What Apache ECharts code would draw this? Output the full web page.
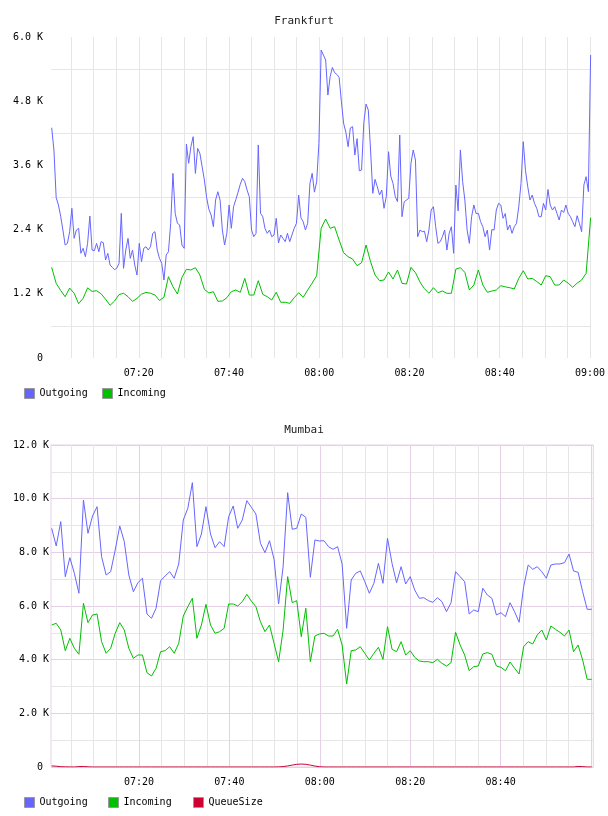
<!DOCTYPE html>
<html>
<head>
<meta charset="utf-8">
<script src="https://cdn.jsdelivr.net/npm/echarts@6/dist/echarts.min.js"></script>
<style>
html,body{margin:0;padding:0;background:#fff;}
#chart{width:608px;height:816px;}
</style>
</head>
<body>
<div id="chart"></div>
<script>
// ---- data (minutes after 07:00) ----
const startHour = 7;
const seriesStart = 0.7;      // first sample, minutes after 07:00
const seriesEnd = 120.15;     // last sample, minutes after 07:00

const fraOutgoing = [
4304,3888,3000,2860,2650,2392,2112,2143,2361,2798,2237,2392,2424,1957,2050,1893,2143,2654,2018,2005,
2143,1987,2174,2155,1832,1957,1738,1695,1650,1680,1770,2704,1676,2018,2237,1863,2018,1738,1551,2143,
1800,2050,2080,2018,2080,2330,2361,2018,1863,1770,1458,1925,1987,2517,3452,2704,2517,2486,2112,2050,
4000,3639,3949,4136,3450,3919,3826,3575,3327,3000,2779,2673,2454,2953,3108,2950,2392,2112,2330,2860,
2424,2828,2960,3100,3250,3358,3295,3140,3015,2392,2267,2330,3982,2704,2641,2420,2330,2392,2267,2299,
2611,2150,2299,2237,2174,2330,2174,2300,2424,2517,3046,2620,2548,2392,2517,3260,3452,3100,3295,4012,
5757,5663,5570,4915,5258,5430,5333,5300,5246,4800,4387,4220,3949,4300,4324,3794,4100,3500,3514,4400,
4747,4635,3888,3078,3339,3202,3046,3140,2798,3015,3856,3400,3264,3015,2922,4168,2641,2922,2953,2984,
3639,3888,3700,2267,2392,2361,2370,2174,2392,2766,2828,2454,2143,2174,2267,2392,2018,2330,2454,1957,
3233,2750,3888,3300,2950,2392,2143,2641,2860,2700,2704,2548,2454,2267,2392,2018,2400,2392,2766,2891,
2860,2611,2700,2392,2486,2330,2454,2517,2828,3264,4043,3500,3202,2953,3046,2890,2798,2641,2641,2891,
2766,3150,2860,2766,2828,2704,2579,2766,2720,2860,2704,2641,2548,2454,2660,2517,2361,3233,3389,3108,
5663
];
const fraIncoming = [
1695,1396,1262,1146,1308,1210,1015,1116,1310,1245,1258,1200,1099,985,1065,1185,1210,1146,1058,1114,
1194,1225,1211,1177,1074,1136,1520,1333,1196,1508,1658,1645,1688,1551,1284,1215,1239,1060,1065,1127,
1239,1271,1228,1489,1177,1177,1445,1190,1146,1084,1228,1041,1041,1022,1127,1221,1134,1271,1400,1538,
2424,2598,2424,2454,2205,1968,1893,1850,1725,1781,2112,1800,1551,1445,1458,1607,1477,1645,1396,1383,
1695,1595,1420,1295,1209,1314,1221,1252,1209,1209,1663,1688,1601,1271,1364,1645,1364,1228,1252,1271,
1351,1330,1314,1290,1489,1632,1477,1489,1430,1364,1538,1520,1364,1364,1458,1400,1321,1400,1458,1583,
2622
];
const mumOutgoing = [
8896,8237,9143,7093,7801,7219,6474,9951,8710,9355,
9701,7838,7156,7279,8088,8982,8397,7156,6533,6869,
7033,5702,5542,5915,6943,7119,7279,7033,7566,9206,
9642,10596,8212,8684,9701,8684,8173,8397,8212,9329,
9727,8896,9206,9925,9679,9429,8337,7987,8434,7741,
6075,7465,10223,8859,8896,9429,9304,7070,8460,8423,
8434,8212,8113,8212,7566,5168,6969,7219,7305,6906,
6474,6846,7590,6846,8522,7590,6869,7465,6820,7093,
6597,6287,6310,6198,6138,6310,6161,5788,6124,7279,
7093,6906,5702,5851,5788,6660,6410,6287,5665,5751,
5602,6124,5788,5393,6720,7529,7368,7465,7279,7033,
7529,7566,7566,7615,7938,7305,7256,6533,5877,5877
];
const mumIncoming = [
5292,5355,5106,4335,4796,4424,4200,6101,5379,5665,
5702,4670,4237,4424,4983,5379,5106,4424,4051,4174,
4174,3515,3392,3678,4297,4335,4484,4237,4610,5628,
5974,6287,4796,5292,6063,5292,4983,5043,5168,6075,
6075,6000,6161,6436,6180,5974,5416,5043,5292,4610,
3925,5106,7093,6124,6198,4857,5915,3925,4882,4957,
4983,4882,4882,5131,4547,3093,4335,4361,4484,4237,
3988,4237,4461,4014,5230,4386,4297,4670,4174,4335,
4088,3951,3925,3925,3888,4014,3863,3764,3888,5020,
4547,4174,3589,3739,3764,4212,4261,4200,3764,3714,
3589,3913,3678,3466,4484,4670,4584,4920,5106,4733,
5255,5131,5020,4882,5106,4297,4547,3988,3268,3268
];
const mumQueue = [
40,30,12,5,2,0,15,20,5,0,
0,0,0,0,0,0,0,0,0,0,
0,0,0,0,0,0,0,0,0,0,
0,0,0,0,0,0,0,0,0,0,
0,0,0,0,0,0,0,0,0,0,
5,15,40,70,100,110,100,70,35,10,
0,0,0,0,0,0,0,0,0,0,
0,0,0,0,0,0,0,0,0,0,
0,0,0,0,0,0,0,0,0,0,
0,0,0,0,0,0,0,0,0,0,
0,0,0,0,0,0,0,0,0,0,
0,0,0,0,0,0,20,15,0,0
];

const gridMinutes = [5,10,15,20,25,30,35,40,45,50,55,60,65,70,75,80,85,90,95,100,105,110,115,120];
const fraTimeLabels = [20,40,60,80,100,120];
const mumTimeLabels = [20,40,60,80,100];
const fraYLabels = [0,1200,2400,3600,4800,6000];
const fraYGrid = [600,1800,3000,4200,5400];
const mumYLabels = [0,2000,4000,6000,8000,10000,12000];
const mumYGrid = [0,1000,2000,3000,4000,5000,6000,7000,8000,9000,10000,11000,12000];

// ---- helpers ----
function toPairs(values){
  const step = (seriesEnd - seriesStart) / (values.length - 1);
  return values.map((v,i)=>[seriesStart + i*step, v]);
}
function pad(n){ return (n<10?'0':'')+n; }
function timeFmt(v){
  const m = Math.round(v);
  return pad(startHour + Math.floor(m/60)) + ':' + pad(m%60);
}
function kFmt(v){ return v === 0 ? '0' : (v/1000).toFixed(1) + ' K'; }
function kFmtTight(v){ return v === 0 ? '{z|0}' : (v/1000).toFixed(1) + ' K'; }

const FONT = 'DejaVu Sans Mono';
const txt = {fontFamily: FONT, fontSize: 10, color: '#000'};
const BLUE = '#6666ff', GREEN = '#00c000', RED = '#cc0033';
const GREY = '#e6e6e6', PINK = '#e6d0e6';

function legend(name, left, top){
  return {
    data: [name], left: left, top: top, padding: 0,
    itemWidth: 10, itemHeight: 10, icon: 'rect',
    itemStyle: {borderColor: '#999', borderWidth: 1},
    textStyle: txt, selectedMode: false
  };
}
function line(name, values, color, idx){
  return {
    name: name, type: 'line', xAxisIndex: idx, yAxisIndex: idx,
    data: toPairs(values), showSymbol: false, symbol: 'none',
    lineStyle: {color: color, width: 1}, itemStyle: {color: color},
    emphasis: {disabled: true}, silent: true
  };
}

const chart = echarts.init(document.getElementById('chart'), null, {renderer: 'canvas'});
chart.setOption({
  animation: false,
  backgroundColor: '#fff',
  title: [
    {text: 'Frankfurt', left: 'center', top: 11, textStyle: {fontFamily: FONT, fontSize: 11, fontWeight: 'normal', color: '#222'}},
    {text: 'Mumbai', left: 'center', top: 420, textStyle: {fontFamily: FONT, fontSize: 11, fontWeight: 'normal', color: '#222'}}
  ],
  legend: [
    legend('Outgoing', 24, 388), legend('Incoming', 102, 388),
    legend('Outgoing', 24, 797), legend('Incoming', 108, 797), legend('QueueSize', 193, 797)
  ],
  grid: [
    {left: 51, right: 15.9, top: 37, height: 321, show: false},
    {left: 51, right: 14.7, top: 445, height: 322, show: true, borderColor: PINK, borderWidth: 1, backgroundColor: 'transparent'}
  ],
  xAxis: [
    {type: 'value', gridIndex: 0, min: 0.55, max: 120.25,
     axisLine: {show: false}, axisTick: {show: false, customValues: gridMinutes},
     axisLabel: {customValues: fraTimeLabels, formatter: timeFmt, margin: 10, ...txt},
     splitLine: {show: true, lineStyle: {color: GREY, width: 1}}},
    {type: 'value', gridIndex: 1, min: 0.55, max: 120.5,
     axisLine: {show: false}, axisTick: {show: false, customValues: gridMinutes},
     axisLabel: {customValues: mumTimeLabels, formatter: timeFmt, margin: 10, ...txt},
     splitLine: {show: true, lineStyle: {color: [GREY, GREY, GREY, PINK], width: 1}}}
  ],
  yAxis: [
    {type: 'value', gridIndex: 0, min: 0, max: 6000,
     axisLine: {show: false}, axisTick: {show: false, customValues: fraYGrid},
     axisLabel: {customValues: fraYLabels, formatter: kFmt, margin: 8, ...txt},
     splitLine: {show: true, lineStyle: {color: GREY, width: 1}}},
    {type: 'value', gridIndex: 1, min: 0, max: 12000,
     axisLine: {show: false}, axisTick: {show: false, customValues: mumYGrid},
     axisLabel: {customValues: mumYLabels, formatter: kFmtTight, margin: 2, ...txt,
                 rich: {z: {fontFamily: FONT, fontSize: 10, color: '#000', padding: [0, 6, 0, 0]}}},
     splitLine: {show: true, lineStyle: {color: [PINK, GREY], width: 1}}}
  ],
  series: [
    line('Outgoing', fraOutgoing, BLUE, 0),
    line('Incoming', fraIncoming, GREEN, 0),
    line('Outgoing', mumOutgoing, BLUE, 1),
    line('Incoming', mumIncoming, GREEN, 1),
    line('QueueSize', mumQueue, RED, 1)
  ]
});
</script>
</body>
</html>
